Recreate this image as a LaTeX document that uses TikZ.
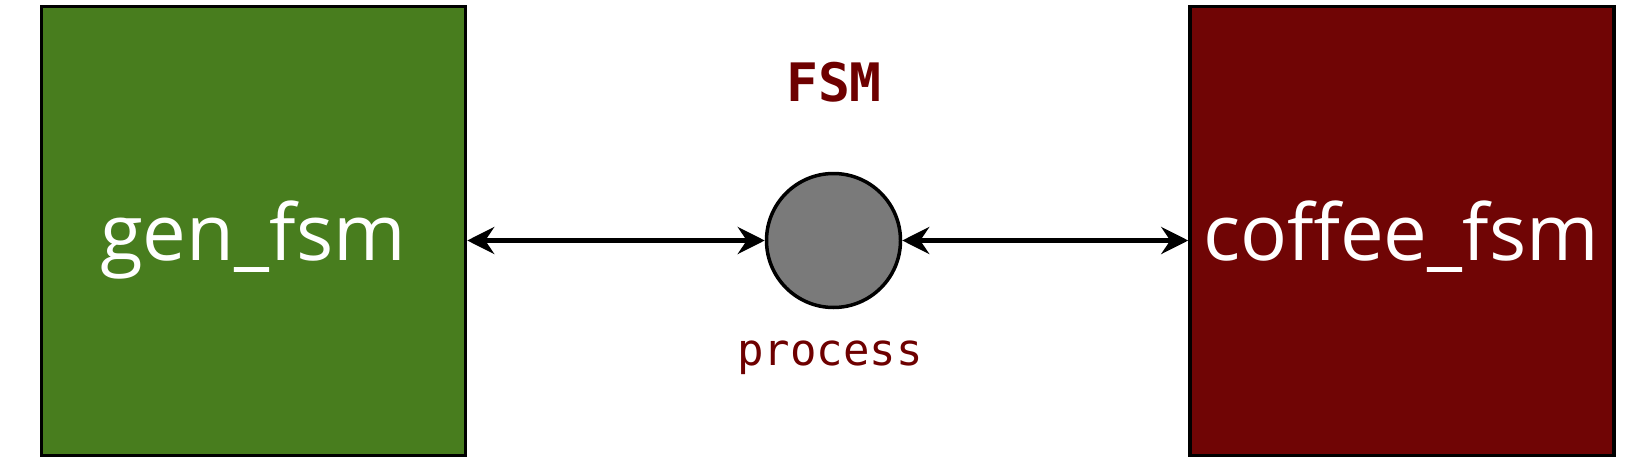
\documentclass[tikz,border=0pt]{standalone}
\usepackage{fontspec}
\newfontfamily\boxfont{Open Sans}
\newfontfamily\labmono{DejaVu Sans Mono}
\usetikzlibrary{arrows.meta}
\definecolor{fsmgreen}{RGB}{72,125,30}
\definecolor{fsmred}{RGB}{112,5,5}
\definecolor{procgray}{RGB}{122,122,122}
\definecolor{labred}{RGB}{110,0,0}
\tikzset{
  module/.style={draw=black, line width=3.5pt, rectangle, minimum height=449pt, minimum width=424pt},
  modtext/.style={text=white, font=\boxfont\fontsize{78}{80}\selectfont, anchor=base},
  proc/.style={draw=black, line width=3.5pt, circle, fill=procgray, minimum size=134pt, inner sep=0pt},
  link/.style={line width=5pt, {Stealth[length=27pt,width=27pt,inset=9pt]}-{Stealth[length=27pt,width=27pt,inset=9pt]}}
}
\begin{document}
\begin{tikzpicture}[x=1pt,y=-1pt]
\useasboundingbox (0,0) rectangle (1652,460);
\node[module, fill=fsmgreen] (gen) at (253.5,231) {};
\node[module, fill=fsmred] (coffee) at (1402,231) {};
\node[modtext] (gentext) at (253,260) {gen\_fsm};
\node[modtext] (coffeetext) at (1401,260) {coffee\_fsm};
\node[proc] (p) at (833.5,240.5) {};
\node[anchor=base, text=labred, font=\labmono\bfseries\fontsize{53}{55}\selectfont] (fsm) at (834,102) {FSM};
\node[anchor=base, text=labred, font=\labmono\fontsize{44}{46}\selectfont] (plabel) at (830,365) {process};
\draw[link] (gen.east |- p.west) -- (p.west);
\draw[link] (p.east) -- (coffee.west |- p.east);
\end{tikzpicture}
\end{document}
